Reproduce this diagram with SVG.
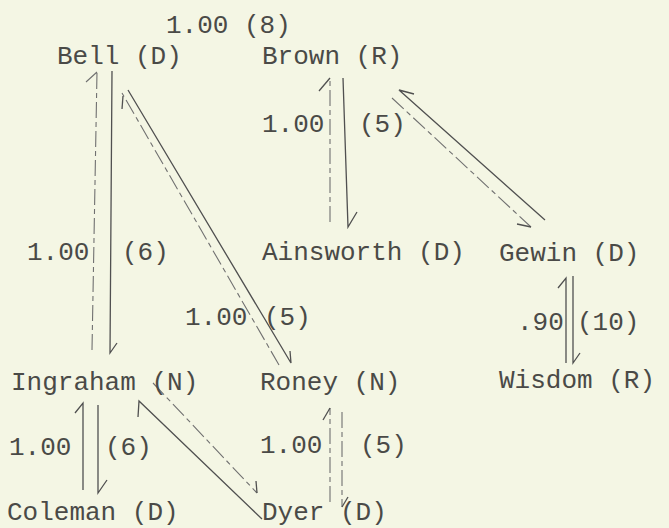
<svg xmlns="http://www.w3.org/2000/svg" width="669" height="528" viewBox="0 0 669 528">
<style>
text{font-family:"Liberation Mono","DejaVu Sans Mono",monospace;font-size:26px;fill:#4a4a47}
.s{stroke:#505050;stroke-width:1.3;fill:none}
.d{stroke:#707070;stroke-width:1.1;fill:none;stroke-dasharray:16 4 5 4}
</style>
<rect width="669" height="528" fill="#f4f6e4"/>
<g id="connectors">
<!-- Bell - Ingraham -->
<path class="d" d="M92,350 L97,72 M97,72 L86,82"/>
<path class="s" d="M112,71 L110,353 L117,343"/>
<!-- Bell - Roney -->
<path class="s" d="M128,90 L291,363 L290,351"/>
<path class="d" d="M279,365 L122,93"/>
<path class="s" d="M123,96 L122,109"/>
<!-- Brown - Ainsworth -->
<path class="d" d="M330,222 L330,78"/>
<path class="s" d="M330,78 L319,91"/>
<path class="s" d="M343,78 L348,227 L357,212"/>
<!-- Brown - Gewin -->
<path class="s" d="M545,220 L399,90 L414,94"/>
<path class="d" d="M392,98 L531,227"/>
<path class="s" d="M531,227 L517,224"/>
<!-- Gewin - Wisdom -->
<path class="s" d="M566,363 L566,278 L558,288"/>
<path class="s" d="M573,276 L573,363 L580,353"/>
<!-- Ingraham - Coleman -->
<path class="s" d="M83,490 L83,403 L75,413"/>
<path class="s" d="M98,405 L98,493 L107,480"/>
<!-- Ingraham - Dyer -->
<path class="d" d="M153,383 L257,493"/>
<path class="s" d="M257,493 L256,481"/>
<path class="s" d="M262,519 L139,401 L138,417"/>
<!-- Roney - Dyer -->
<path class="d" d="M330,502 L330,408"/>
<path class="s" d="M330,408 L323,420"/>
<path class="d" d="M342,412 L342,507"/>
<path class="s" d="M342,507 L348,497"/>
</g>
<g id="edge-labels">
<text x="166" y="33">1.00 (8)</text>
<text x="262" y="132">1.00</text><text x="359" y="132">(5)</text>
<text x="27" y="260">1.00</text><text x="122" y="260">(6)</text>
<text x="185" y="325">1.00</text><text x="264" y="325">(5)</text>
<text x="517" y="330">.90</text><text x="577" y="330">(10)</text>
<text x="9" y="455">1.00</text><text x="105" y="455">(6)</text>
<text x="260" y="453">1.00</text><text x="360" y="453">(5)</text>
</g>
<g id="bell"><text x="57" y="64">Bell (D)</text></g>
<g id="brown"><text x="262" y="64">Brown (R)</text></g>
<g id="ainsworth"><text x="262" y="260">Ainsworth (D)</text></g>
<g id="gewin"><text x="499" y="261">Gewin (D)</text></g>
<g id="ingraham"><text x="11" y="390">Ingraham (N)</text></g>
<g id="roney"><text x="260" y="390">Roney (N)</text></g>
<g id="wisdom"><text x="499" y="388">Wisdom (R)</text></g>
<g id="coleman"><text x="7" y="520">Coleman (D)</text></g>
<g id="dyer"><text x="262" y="520">Dyer (D)</text></g>
</svg>
